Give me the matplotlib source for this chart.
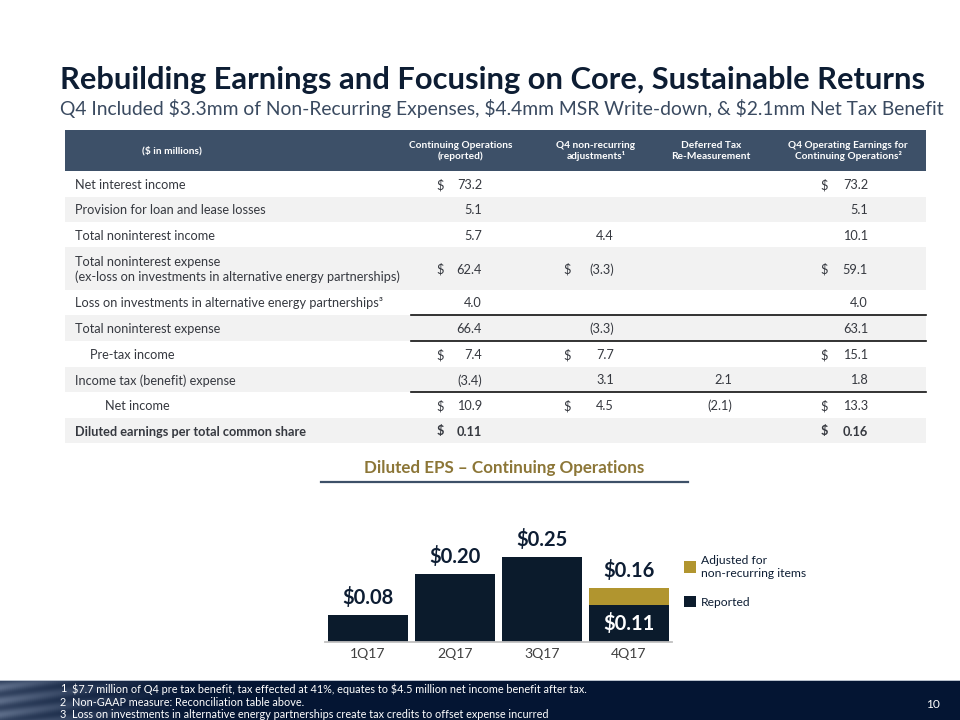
import matplotlib
matplotlib.use('Agg')
import matplotlib.pyplot as plt
from matplotlib.patches import Rectangle
from matplotlib.lines import Line2D
import numpy as np

FONT = ['Lato', 'DejaVu Sans']
plt.rcParams['font.family'] = FONT
plt.rcParams['text.parse_math'] = False

# ---------------- data ----------------
title = "Rebuilding Earnings and Focusing on Core, Sustainable Returns"
subtitle = ("Q4 Included $3.3mm of Non-Recurring Expenses, $4.4mm MSR Write-down, "
            "& $2.1mm Net Tax Benefit")

col_headers = ["($ in millions)",
               "Continuing Operations\n(reported)",
               "Q4 non-recurring\nadjustments¹",
               "Deferred Tax\nRe-Measurement",
               "Q4 Operating Earnings for\nContinuing Operations²"]

row_labels = ["Net interest income",
              "Provision for loan and lease losses",
              "Total noninterest income",
              "Total noninterest expense\n(ex-loss on investments in alternative energy partnerships)",
              "Loss on investments in alternative energy partnerships³",
              "Total noninterest expense",
              "Pre-tax income",
              "Income tax (benefit) expense",
              "Net income",
              "Diluted earnings per total common share"]

cont_ops = ["73.2", "5.1", "5.7", "62.4", "4.0", "66.4", "7.4", "(3.4)", "10.9", "0.11"]
nonrec_adj = ["", "", "4.4", "(3.3)", "", "(3.3)", "7.7", "3.1", "4.5", ""]
deferred_tax = ["", "", "", "", "", "", "", "2.1", "(2.1)", ""]
operating = ["73.2", "5.1", "10.1", "59.1", "4.0", "63.1", "15.1", "1.8", "13.3", "0.16"]

dollar_cont = [True, False, False, True, False, False, True, False, True, True]
dollar_nonrec = [False, False, False, True, False, False, True, False, True, False]
dollar_deferred = [False] * 10
dollar_oper = [True, False, False, True, False, False, True, False, True, True]

chart_title = "Diluted EPS – Continuing Operations"
quarters = ["1Q17", "2Q17", "3Q17", "4Q17"]
eps_reported = [0.08, 0.20, 0.25, 0.11]
eps_adjusted = [0.08, 0.20, 0.25, 0.16]
legend_labels = ["Adjusted for\nnon-recurring items", "Reported"]

footnotes = ["1  $7.7 million of Q4 pre tax benefit, tax effected at 41%, equates to $4.5 million net income benefit after tax.",
             "2  Non-GAAP measure: Reconciliation table above.",
             "3  Loss on investments in alternative energy partnerships create tax credits to offset expense incurred"]
page_number = "10"

# ---------------- style ----------------
W, H = 960, 720
NAVY = '#0d1d33'
SLATE = '#3d5068'
SUB = '#3a4a60'
BODY = '#363940'
GOLD_TXT = '#8c7637'
BAR_NAVY = '#0b1b2c'
BAR_GOLD = '#b1952f'
SHADE = '#f2f2f2'

fig = plt.figure(figsize=(9.6, 7.2), dpi=100)
fig.patch.set_facecolor('white')
renderer = fig.canvas.get_renderer()


def fx(x):
    return x / W


def fy(y):
    return 1 - y / H


def fit_size(s, target_px, weight='normal', base=20):
    t = fig.text(0, 0, s, fontsize=base, fontweight=weight)
    w = t.get_window_extent(renderer).width
    t.remove()
    return base * target_px / w


def txt(x, y, s, **kw):
    return fig.text(fx(x), fy(y), s, **kw)


def rect(x0, y0, x1, y1, color, z=0):
    fig.add_artist(Rectangle((fx(x0), fy(y1)), (x1 - x0) / W, (y1 - y0) / H,
                             transform=fig.transFigure, facecolor=color,
                             edgecolor='none', zorder=z))


def hline(x0, x1, y, color, lw):
    fig.add_artist(Line2D([fx(x0), fx(x1)], [fy(y), fy(y)], transform=fig.transFigure,
                          color=color, lw=lw, zorder=3))


# ---------------- title ----------------
ts = fit_size(title, 862, 'bold')
txt(60, 80, title, fontsize=ts, fontweight='bold', color=NAVY, va='center', ha='left')
ss = fit_size(subtitle, 886)
txt(60, 108, subtitle, fontsize=ss, color=SUB, va='center', ha='left')

# ---------------- table ----------------
tx0, tx1 = 65, 926
rect(tx0, 130, tx1, 171, SLATE, z=1)
hs = fit_size("Continuing Operations", 96, 'bold') * 1.07
header_x = [172, 461, 596, 711, 848]
for hx, h in zip(header_x, col_headers):
    txt(hx, 151, h, fontsize=hs, fontweight='bold', color='white', ha='center',
        va='center', multialignment='center', linespacing=1.2, zorder=4)

row_tops = [171, 197, 222, 247, 290, 315, 341, 367, 392, 418, 443]
bs = fit_size("Net interest income", 107) * 1.04
indent = {6: 90, 8: 105}
num_right = [482, 614, 732, 868]
dollar_x = [440, 567, 690, 824]
cols = [(cont_ops, dollar_cont), (nonrec_adj, dollar_nonrec),
        (deferred_tax, dollar_deferred), (operating, dollar_oper)]
for i, lab in enumerate(row_labels):
    top, bot = row_tops[i], row_tops[i + 1]
    if i % 2 == 1:
        rect(tx0, top, tx1, bot, SHADE, z=1)
    yc = (top + bot) / 2 + 1
    w = 'bold' if i == len(row_labels) - 1 else 'normal'
    txt(indent.get(i, 75), yc, lab, fontsize=bs, fontweight=w, color=BODY,
        va='center', ha='left', linespacing=1.3, zorder=4)
    for c, (vals, dol) in enumerate(cols):
        if vals[i]:
            txt(num_right[c], yc, vals[i], fontsize=bs, fontweight=w, color=BODY,
                va='center', ha='right', zorder=4)
        if dol[i]:
            txt(dollar_x[c], yc, "$", fontsize=bs, fontweight=w, color=BODY,
                va='center', ha='center', zorder=4)

for yl in [315, 341, 392]:
    hline(411, tx1, yl, '#111111', 1.2)

# ---------------- chart ----------------
cs = fit_size(chart_title, 280, 'bold')
txt(504, 468, chart_title, fontsize=cs, fontweight='bold', color=GOLD_TXT,
    ha='center', va='center')
hline(321, 688, 482, SLATE, 1.6)

step = 87.0
pxu = 340.0
ymax = 0.42
left_px = 368 - 0.55 * step
ax = fig.add_axes([fx(left_px), (H - 642) / H, 4.1 * step / W, ymax * pxu / H])
ax.set_xlim(-0.55, 3.55)
ax.set_ylim(0, ymax)
ax.patch.set_alpha(0)
for sp in ax.spines.values():
    sp.set_visible(False)

x = np.arange(len(quarters))
bw = 80 / step
ax.bar(x, eps_reported, width=bw, color=BAR_NAVY, zorder=2)
extra = [a - r for a, r in zip(eps_adjusted, eps_reported)]
ax.bar(x, extra, bottom=eps_reported, width=bw, color=BAR_GOLD, zorder=2)
ax.plot([-0.49, 3.49], [0, 0], color='#c0c0c0', lw=1.3, zorder=3, clip_on=False)

vs = fit_size("$0.08", 50, 'bold') * 1.04
for i in range(len(quarters)):
    ax.annotate(f"${eps_adjusted[i]:.2f}", (x[i], eps_adjusted[i]), xytext=(0, 5),
                textcoords='offset points', ha='center', va='bottom', fontsize=vs,
                fontweight='bold', color=NAVY)
    if extra[i] > 0:
        ax.text(x[i], eps_reported[i] / 2, f"${eps_reported[i]:.2f}", ha='center',
                va='center', fontsize=vs, fontweight='bold', color='white', zorder=4)

ks = fit_size("1Q17", 34) * 1.05
ax.set_yticks([])
ax.set_xticks(x)
ax.set_xticklabels(quarters, fontsize=ks, color='#404040')
ax.tick_params(axis='x', length=0, pad=4)

# legend
ls = fit_size("non-recurring items", 106)
rect(684, 561, 696, 573, BAR_GOLD, z=2)
rect(684, 596, 696, 607, BAR_NAVY, z=2)
txt(701, 567, legend_labels[0], fontsize=ls, color=NAVY, ha='left', va='center',
    linespacing=1.15)
txt(701, 602, legend_labels[1], fontsize=ls, color=NAVY, ha='left', va='center')

# ---------------- footer ----------------
fax = fig.add_axes([0, 0, 1, 40 / H])
fax.set_axis_off()
gx = np.linspace(0, 1, 480)
gy = np.linspace(0, 1, 40)
GX, GY = np.meshgrid(gx, gy)
base_c = np.array([0x04, 0x15, 0x33]) / 255
light_c = np.array([0x5c, 0x6c, 0x88]) / 255
wgt = np.clip(1 - GX / 0.22, 0, 1) ** 1.5 * (0.55 + 0.45 * np.sin(GY * 9 + GX * 30) ** 2)
img = base_c[None, None, :] * (1 - wgt[..., None]) + light_c[None, None, :] * wgt[..., None]
img[0, :, :] = np.array([0xb8, 0xc0, 0xcc]) / 255
fax.imshow(img, aspect='auto', extent=[0, 1, 0, 1], origin='upper')
fax.set_xlim(0, 1)
fax.set_ylim(0, 1)

fs = fit_size(footnotes[0][3:], 464) * 1.1
for k, (fn, yy) in enumerate(zip(footnotes, [689, 703, 715])):
    num, rest = fn.split("  ", 1)
    txt(63, yy, num, fontsize=fs, color='white', ha='center', va='center', zorder=5)
    txt(72, yy, rest, fontsize=fs, color='white', ha='left', va='center', zorder=5)
txt(933, 705, page_number, fontsize=fs * 1.1, color='white', ha='center', va='center', zorder=5)

fig.savefig('out.png', dpi=100)
